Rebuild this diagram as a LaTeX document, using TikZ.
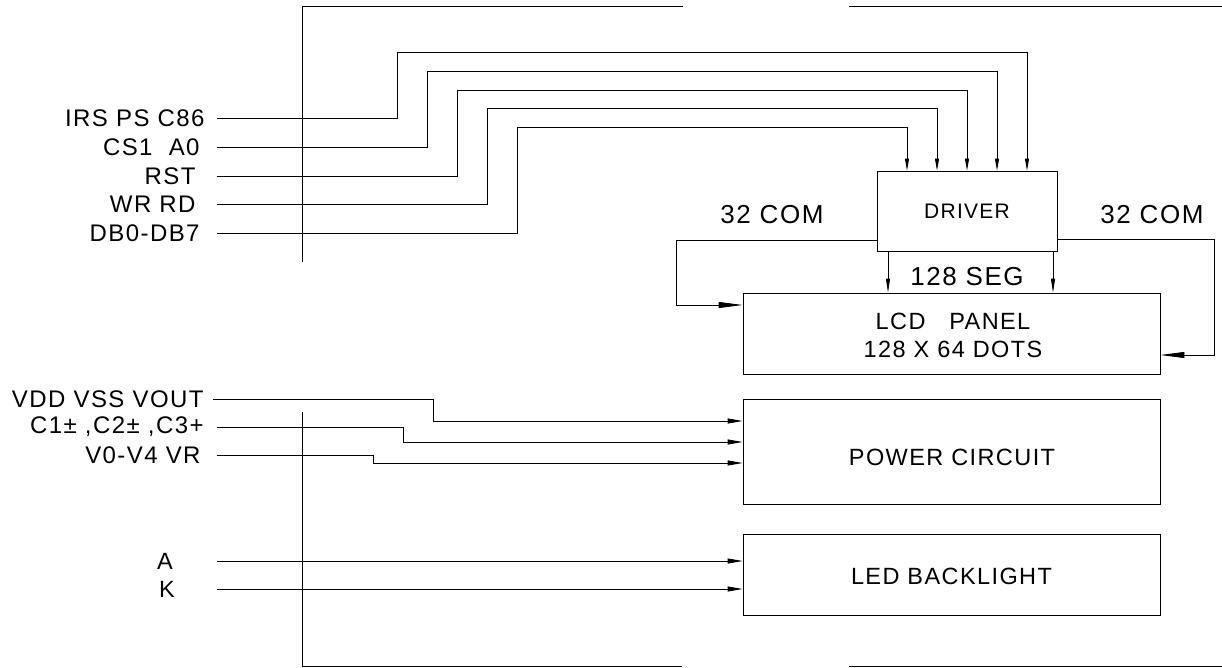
\documentclass[tikz,border=0pt]{standalone}
\usepackage{fontspec}
\setmainfont{Liberation Sans}[LetterSpace=6]
\usetikzlibrary{arrows.meta}
\newcommand{\lblfont}{\fontsize{24}{28}\selectfont}
\newcommand{\boxfont}{\fontsize{23.5}{28}\selectfont}
\newcommand{\bigfont}{\fontsize{26}{30}\selectfont}
\newcommand{\drvfont}{\fontsize{21}{25}\selectfont}
\begin{document}
\begin{tikzpicture}[x=1pt,y=-1pt,line width=0.8pt,
  blk/.style={draw,line width=0.8pt,inner sep=0pt,minimum width=417pt},
  lbl/.style={anchor=east,inner sep=0pt,font=\lblfont},
  txt/.style={inner sep=0pt,font=\boxfont,align=center},
  arrin/.style={-{Triangle[length=12pt,width=4pt]}},
  arrseg/.style={-{Triangle[length=14pt,width=4pt]}},
  arrcom/.style={-{Triangle[length=24pt,width=6pt]}},
  arrpw/.style={-{Triangle[length=15pt,width=5pt]}}]
\useasboundingbox (0,0) rectangle (1222,668);
% frame
\draw (683,6) -- (302,6) -- (302,262);
\draw (849,6) -- (1222,6);
\draw (302,412) -- (302,666) -- (682,666);
\draw (849,666) -- (1222,666);
% boxes
\node[draw,inner sep=0pt,minimum width=180pt,minimum height=80pt,font=\drvfont] (drv) at (967,211) {DRIVER};
\node[blk,minimum height=81pt] (lcd) at (951.5,333.5) {};
\node[txt] (lcdt) at (953,335) {LCD\ \ \ PANEL\\128 X 64 DOTS};
\node[blk,minimum height=105pt] (pw) at (951.5,451.5) {};
\node[txt] (pwt) at (952,457) {POWER CIRCUIT};
\node[blk,minimum height=81pt] (led) at (951.5,575) {};
\node[txt] (ledt) at (951.5,576) {LED BACKLIGHT};
% other labels
\node[font=\bigfont,inner sep=0pt] (coml) at (772,215) {32 COM};
\node[font=\bigfont,inner sep=0pt] (comr) at (1152,215) {32 COM};
\node[font=\bigfont,inner sep=0pt] (seg) at (967,277) {128 SEG};
% input labels
\node[lbl] (l1) at (205,118) {IRS PS C86};
\node[lbl] (l2) at (200,147) {CS1\ \ A0};
\node[lbl] (l3) at (196,176) {RST};
\node[lbl] (l4) at (196,204) {WR RD};
\node[lbl] (l5) at (200,233) {DB0-DB7};
\node[lbl] (p1) at (204,399) {VDD VSS VOUT};
\node[lbl] (p2) at (204,427) {C1± ,C2± ,C3+};
\node[lbl] (p3) at (201,455) {V0-V4 VR};
\node[txt] (la) at (165,561) {A};
\node[txt] (lk) at (167,589) {K};
% driver inputs
\draw[arrin] (l1.east -| 217,0) -| (397,52) -| (1027,0 |- drv.north);
\draw[arrin] (l2.east -| 217,0) -| (427,71) -| (997,0 |- drv.north);
\draw[arrin] (l3.east -| 217,0) -| (457,90) -| (967,0 |- drv.north);
\draw[arrin] (l4.east -| 217,0) -| (487,108) -| (937,0 |- drv.north);
\draw[arrin] (l5.east -| 217,0) -| (517,127) -| (907,0 |- drv.north);
% driver outputs
\draw[arrcom] (drv.west |- 0,240) -| (676,305) -- (lcd.west |- 0,305);
\draw[arrcom] (drv.east |- 0,239) -| (1214,355) -- (lcd.east |- 0,355);
\draw[arrseg] (888,0 |- drv.south) -- (888,0 |- lcd.north);
\draw[arrseg] (1053,0 |- drv.south) -- (1053,0 |- lcd.north);
% power
\draw[arrpw] (p1.east -| 213,0) -| (433,421) -- (pw.west |- 0,421);
\draw[arrpw] (p2.east -| 217,0) -| (403,442) -- (pw.west |- 0,442);
\draw[arrpw] (p3.east -| 217,0) -| (373,463) -- (pw.west |- 0,463);
% backlight
\draw[arrpw] (la.east -| 217,0) -- (led.west |- 0,561);
\draw[arrpw] (lk.east -| 217,0) -- (led.west |- 0,589);
\end{tikzpicture}
\end{document}
